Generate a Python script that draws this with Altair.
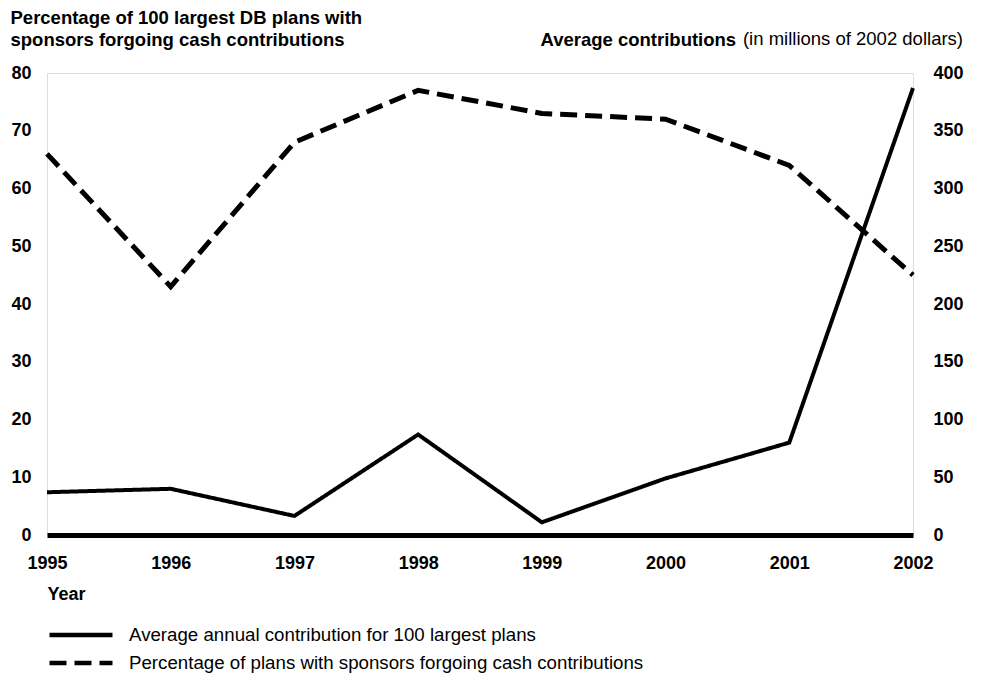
import altair as alt
import pandas as pd

years = [1995, 1996, 1997, 1998, 1999, 2000, 2001, 2002]
avg_contrib = [37, 40, 16.5, 87, 11, 49, 80, 387]          # millions of 2002 dollars (right axis)
pct_forgoing = [66, 43, 68, 77, 73, 72, 64, 45]            # percent (left axis)
series_names = [
    "Average annual contribution for 100 largest plans",
    "Percentage of plans with sponsors forgoing cash contributions",
]
left_ticks = list(range(0, 81, 10))
right_ticks = list(range(0, 401, 50))
left_title = ["Percentage of 100 largest DB plans with", "sponsors forgoing cash contributions"]
right_title_bold = "Average contributions"
right_title_rest = "(in millions of 2002 dollars)"

FONT = "Liberation Sans"

df_c = pd.DataFrame({"year": years, "value": avg_contrib, "series": series_names[0]})
df_p = pd.DataFrame({"year": years, "value": pct_forgoing, "series": series_names[1]})

dash = alt.StrokeDash(
    "series:N",
    scale=alt.Scale(domain=series_names, range=[[1, 0], [17, 8]]),
    legend=alt.Legend(
        orient="none", legendX=0, legendY=550, direction="vertical", title=None,
        symbolType="stroke", symbolSize=3969, symbolStrokeWidth=4.5,
        symbolStrokeColor="black", clipHeight=24, rowPadding=4,
        labelFont=FONT, labelFontSize=18.7, labelColor="black", labelOffset=14,
        labelLimit=800,
    ),
)

xenc = alt.X(
    "year:Q",
    scale=alt.Scale(domain=[1995, 2002], nice=False, zero=False),
    axis=alt.Axis(
        values=years, format="d", labelFont=FONT, labelFontSize=18,
        labelFontWeight="bold", labelColor="black", labelPadding=19,
        labelFlush=False, ticks=False, tickSize=0, grid=False,
        domainWidth=5, domainColor="black",
        title="Year", titleFont=FONT, titleFontSize=18, titleFontWeight="bold",
        titleColor="black", titleAnchor="start", titleAlign="left",
        titleX=0, titleY=64, titleBaseline="alphabetic",
    ),
)

pct_line = alt.Chart(df_p).mark_line(color="black", strokeWidth=5).encode(
    x=xenc,
    y=alt.Y(
        "value:Q",
        scale=alt.Scale(domain=[0, 80], nice=False),
        axis=alt.Axis(
            orient="left", values=left_ticks, labelFont=FONT, labelFontSize=18,
            labelFontWeight="bold", labelColor="black", labelAlign="right",
            labelPadding=16, ticks=False, tickSize=0, domain=False, grid=False,
            title=left_title, titleFont=FONT, titleFontSize=18.5,
            titleFontWeight="bold", titleColor="black", titleAngle=0,
            titleAlign="left", titleX=-37, titleY=-50,
            titleBaseline="alphabetic", titleLineHeight=22,
        ),
    ),
    strokeDash=dash,
)

contrib_line = alt.Chart(df_c).mark_line(color="black", strokeWidth=4).encode(
    x=xenc,
    y=alt.Y(
        "value:Q",
        scale=alt.Scale(domain=[0, 400], nice=False),
        axis=alt.Axis(
            orient="right", values=right_ticks, labelFont=FONT, labelFontSize=18,
            labelFontWeight="bold", labelColor="black", labelAlign="left",
            labelPadding=20, ticks=False, tickSize=0, domain=False, grid=False,
            title=right_title_bold, titleFont=FONT, titleFontSize=18.5,
            titleFontWeight="bold", titleColor="black", titleAngle=0,
            titleAlign="left", titleX=-373, titleY=-28,
            titleBaseline="alphabetic",
        ),
    ),
    strokeDash=dash,
)

note = alt.Chart(pd.DataFrame({"t": [right_title_rest]})).mark_text(
    align="right", baseline="alphabetic", font=FONT, fontSize=18.5, color="black"
).encode(x=alt.value(916), y=alt.value(-28), text="t:N")

chart = (
    alt.layer(pct_line, contrib_line, note)
    .resolve_scale(y="independent")
    .properties(
        width=866, height=462,
        autosize=alt.AutoSizeParams(type="none"),
        padding={"left": 39, "top": 65, "right": 61, "bottom": 142},
    )
    .configure_view(stroke=None)
    .configure(background="white")
)

chart.save("out.html", embed_options={"renderer": "svg", "actions": False})
